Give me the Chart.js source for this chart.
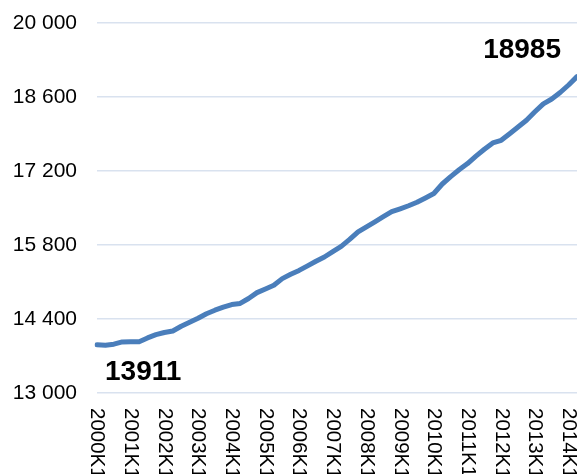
<!DOCTYPE html>
<html>
<head>
<meta charset="utf-8">
<script src="https://cdn.jsdelivr.net/npm/chart.js@4/dist/chart.umd.min.js"></script>
<style>
  body { margin: 0; background: #fff; }
  #chart { display: block; }
</style>
</head>
<body>
<canvas id="chart" width="577" height="474"></canvas>
<script>
// quarters shown on the x axis (one label per year is printed)
const quarters = [
    '2000K1', '2000K2', '2000K3', '2000K4',
    '2001K1', '2001K2', '2001K3', '2001K4',
    '2002K1', '2002K2', '2002K3', '2002K4',
    '2003K1', '2003K2', '2003K3', '2003K4',
    '2004K1', '2004K2', '2004K3', '2004K4',
    '2005K1', '2005K2', '2005K3', '2005K4',
    '2006K1', '2006K2', '2006K3', '2006K4',
    '2007K1', '2007K2', '2007K3', '2007K4',
    '2008K1', '2008K2', '2008K3', '2008K4',
    '2009K1', '2009K2', '2009K3', '2009K4',
    '2010K1', '2010K2', '2010K3', '2010K4',
    '2011K1', '2011K2', '2011K3', '2011K4',
    '2012K1', '2012K2', '2012K3', '2012K4',
    '2013K1', '2013K2', '2013K3', '2013K4',
    '2014K1', '2014K2'
];

// values
const values = [
    13911, 13905, 13923, 13967, 13970, 13970, 14042, 14103,
    14145, 14173, 14262, 14338, 14415, 14500, 14566, 14623,
    14674, 14695, 14788, 14899, 14969, 15038, 15164, 15246,
    15319, 15406, 15493, 15573, 15675, 15775, 15906, 16048,
    16144, 16239, 16335, 16430, 16485, 16543, 16608, 16689,
    16774, 16954, 17094, 17223, 17340, 17482, 17612, 17732,
    17781, 17906, 18031, 18159, 18320, 18471, 18562, 18685,
    18827, 18985
];

const yTicks = [13000, 14400, 15800, 17200, 18600, 20000];

// écrire les milliers avec un espace : 20 000
function formatThousands(v) {
    return String(v).replace(/\B(?=(\d{3})+(?!\d))/g, ' ');
}

// étiquettes de l'axe x (tournées vers le bas) et valeurs de début / fin
const labelPlugin = {
    id: 'extraLabels',
    afterDraw(chart) {
        const ctx = chart.ctx;
        const xScale = chart.scales.x;
        const meta = chart.getDatasetMeta(0);

        ctx.save();
        ctx.fillStyle = '#000';
        ctx.font = '20.5px "Liberation Sans", Arial, sans-serif';
        ctx.textAlign = 'left';
        ctx.textBaseline = 'middle';
        quarters.forEach((q, i) => {
            if (i % 4 !== 0) return;
            const px = xScale.getPixelForValue(i);
            ctx.save();
            ctx.translate(px, chart.chartArea.bottom + 15);
            ctx.rotate(Math.PI / 2);
            ctx.fillText(q, 0, 0);
            ctx.restore();
        });

        const first = meta.data[0];
        const last = meta.data[meta.data.length - 1];
        ctx.font = 'bold 28px "Liberation Sans", Arial, sans-serif';
        ctx.textBaseline = 'alphabetic';
        ctx.textAlign = 'left';
        ctx.fillText(String(values[0]), first.x + 8, first.y + 35);
        ctx.textAlign = 'right';
        ctx.fillText(String(values[values.length - 1]), last.x - 16, last.y - 19);
        ctx.restore();
    }
};

new Chart(document.getElementById('chart'), {
    type: 'line',
    data: {
        labels: quarters,
        datasets: [{
            data: values,
            borderColor: '#4a7ebb',
            borderWidth: 5,
            pointRadius: 0,
            tension: 0,
            borderCapStyle: 'round',
            borderJoinStyle: 'round',
            fill: false
        }]
    },
    options: {
        responsive: false,
        animation: false,
        layout: { padding: { top: 23, right: 0, bottom: 0, left: 0 } },
        plugins: {
            legend: { display: false },
            tooltip: { enabled: false }
        },
        scales: {
            x: {
                grid: { display: false },
                border: { display: false },
                ticks: { display: false },
                afterFit(scale) {
                    scale.height = 81;
                    scale.paddingLeft = 0;
                    scale.paddingRight = 0;
                }
            },
            y: {
                min: yTicks[0],
                max: yTicks[yTicks.length - 1],
                grid: { color: '#d9e2ef', lineWidth: 1.5, drawTicks: false },
                border: { display: false },
                ticks: {
                    padding: 20,
                    color: '#000',
                    font: { family: '"Liberation Sans", Arial, sans-serif', size: 21 },
                    callback: function(value) {
                        return formatThousands(value);
                    }
                },
                afterBuildTicks(scale) {
                    scale.ticks = yTicks.map(v => ({ value: v }));
                },
                afterFit(scale) {
                    scale.width = 97;
                    scale.paddingTop = 0;
                    scale.paddingBottom = 0;
                }
            }
        }
    },
    plugins: [labelPlugin]
});
</script>
</body>
</html>
